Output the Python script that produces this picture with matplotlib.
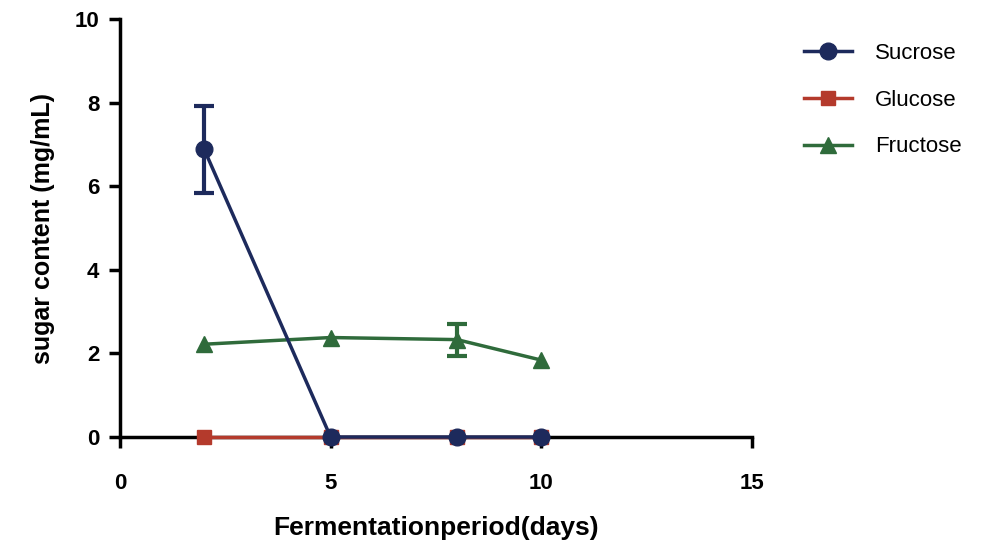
import numpy as np
import matplotlib.pyplot as plt

# data
days = [2, 5, 8, 10]
sucrose = [6.88, 0.0, 0.0, 0.0]
sucrose_err = [1.05, 0.0, 0.0, 0.0]
glucose = [0.0, 0.0, 0.0, 0.0]
glucose_err = [0.0, 0.0, 0.0, 0.0]
fructose = [2.22, 2.38, 2.33, 1.84]
fructose_err = [0.0, 0.0, 0.38, 0.0]

c_suc = '#1d2a5c'
c_glu = '#b43a2c'
c_fru = '#2f6b3b'

plt.rcParams['font.family'] = ['Liberation Sans', 'DejaVu Sans']

fig = plt.figure(figsize=(10.03, 5.46), dpi=100)
ax = fig.add_axes([0.1196, 0.1996, 0.6301, 0.7656])

series = [
    ('Glucose', glucose, glucose_err, c_glu, 's', 10, 4),
    ('Fructose', fructose, fructose_err, c_fru, '^', 11, 4),
    ('Sucrose', sucrose, sucrose_err, c_suc, 'o', 12, 5),
]
handles = {}
for name, y, err, col, mk, ms, z in series:
    h, = ax.plot(days, y, color=col, marker=mk, markersize=ms, linewidth=2.5,
                 label=name, clip_on=False, zorder=z)
    handles[name] = h
    # error bars only where there is a visible spread
    x_e = [d for d, e in zip(days, err) if e > 0]
    y_e = [v for v, e in zip(y, err) if e > 0]
    e_e = [e for e in err if e > 0]
    if x_e:
        ax.errorbar(x_e, y_e, yerr=e_e, fmt='none', ecolor=col, elinewidth=3,
                    capsize=7, capthick=3, zorder=z)

ax.set_xlim(0, 15)
ax.set_ylim(0, 10)
ax.set_xticks([0, 5, 10, 15])
ax.set_yticks([0, 2, 4, 6, 8, 10])

for s in ['top', 'right']:
    ax.spines[s].set_visible(False)
for s in ['left', 'bottom']:
    ax.spines[s].set_linewidth(2.5)
    ax.spines[s].set_color('black')
ax.tick_params(direction='out', length=8, width=2.5, labelsize=16)
ax.tick_params(axis='x', pad=18)
ax.tick_params(axis='y', pad=7)
for lab in ax.get_xticklabels() + ax.get_yticklabels():
    lab.set_fontweight('bold')

ax.set_xlabel('Fermentationperiod(days)', fontsize=19, fontweight='bold', labelpad=16)
ax.set_ylabel('sugar content (mg/mL)', fontsize=18, fontweight='bold', labelpad=14)

names = ['Sucrose', 'Glucose', 'Fructose']
ax.legend([handles[n] for n in names], names,
          loc='upper left', bbox_to_anchor=(1.05, 0.99), frameon=False,
          handlelength=2.2, labelspacing=1.15, handletextpad=1.0,
          prop={'size': 16})

fig.savefig('out.png', dpi=100)
